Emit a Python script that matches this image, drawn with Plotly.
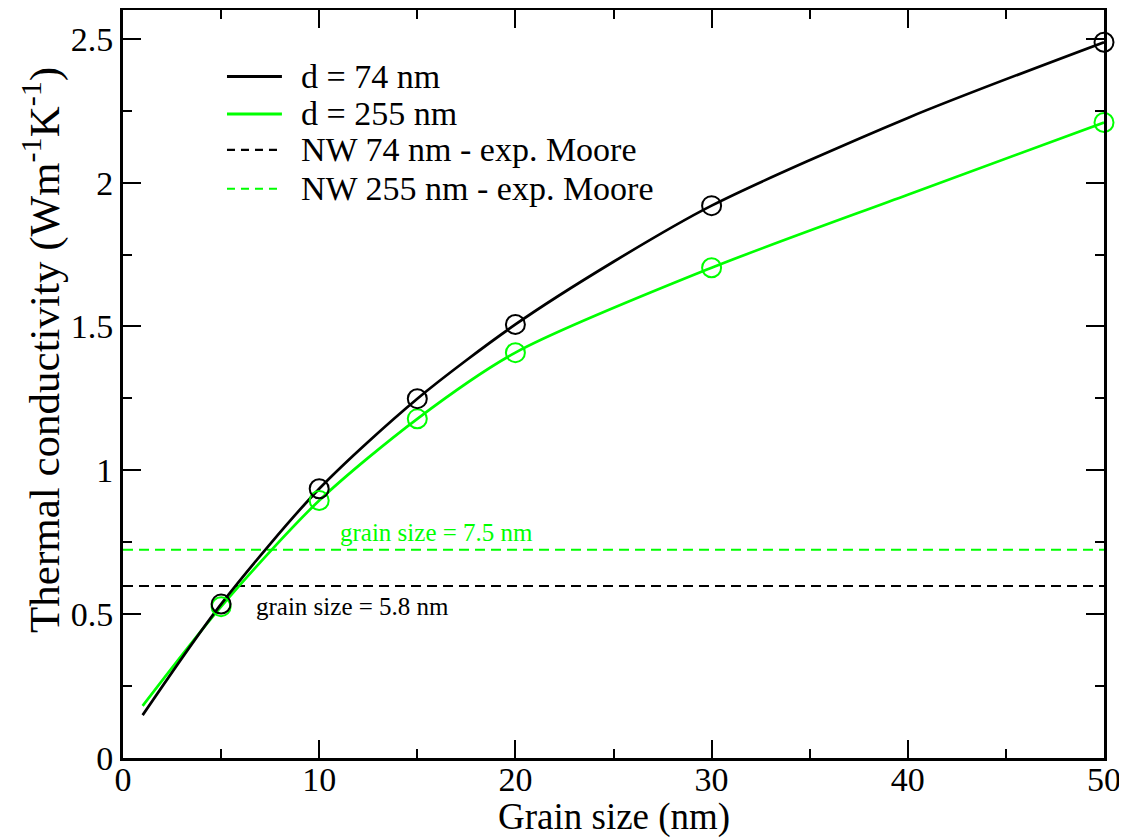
import plotly.graph_objects as go

# ---- data ----
grain_pts = [5, 10, 15, 20, 30, 50]
k_74_pts = [0.535, 0.936, 1.249, 1.507, 1.92, 2.488]
k_255_pts = [0.526, 0.895, 1.179, 1.409, 1.704, 2.209]

curve74_x = [1, 5, 10, 15, 20, 25, 30, 40, 50]
curve74_y = [0.149, 0.535, 0.936, 1.249, 1.507, 1.725, 1.92, 2.225, 2.488]
curve255_x = [1, 5, 10, 15, 20, 30, 40, 50]
curve255_y = [0.181, 0.526, 0.895, 1.179, 1.409, 1.704, 1.958, 2.209]

exp_x = [0, 50]
exp_74 = 0.598
exp_255 = 0.724

legend_labels = ["d = 74 nm", "d = 255 nm", "NW 74 nm - exp. Moore", "NW 255 nm - exp. Moore"]

BLACK = "#000000"
GREEN = "#00ff00"
FONT = "Liberation Serif, Times New Roman, serif"

fig = go.Figure()

# experimental horizontal lines
fig.add_trace(go.Scatter(x=exp_x, y=[exp_255] * 2, mode="lines", name=legend_labels[3],
                         line=dict(color=GREEN, width=2, dash="10px,6px"), showlegend=False))
fig.add_trace(go.Scatter(x=exp_x, y=[exp_74] * 2, mode="lines", name=legend_labels[2],
                         line=dict(color=BLACK, width=2, dash="10px,6px"), showlegend=False))

# curves
fig.add_trace(go.Scatter(x=curve255_x, y=curve255_y, mode="lines", name=legend_labels[1],
                         line=dict(color=GREEN, width=2.7, shape="spline", smoothing=0.8),
                         showlegend=False))
fig.add_trace(go.Scatter(x=curve74_x, y=curve74_y, mode="lines", name=legend_labels[0],
                         line=dict(color=BLACK, width=2.7, shape="spline", smoothing=0.8),
                         showlegend=False))

# markers
fig.add_trace(go.Scatter(x=grain_pts, y=k_255_pts, mode="markers", showlegend=False, cliponaxis=False,
                         marker=dict(symbol="circle-open", size=19, color=GREEN, line=dict(width=2, color=GREEN))))
fig.add_trace(go.Scatter(x=grain_pts, y=k_74_pts, mode="markers", showlegend=False, cliponaxis=False,
                         marker=dict(symbol="circle-open", size=19, color=BLACK, line=dict(width=2, color=BLACK))))

# manual legend
leg_rows = [0.911, 0.861, 0.813, 0.761]
leg_colors = [BLACK, GREEN, BLACK, GREEN]
leg_dash = ["solid", "solid", "8px,6px", "8px,6px"]
leg_width = [3, 3, 2.2, 2.2]
for lab, yy, c, d, w in zip(legend_labels, leg_rows, leg_colors, leg_dash, leg_width):
    fig.add_shape(type="line", xref="paper", yref="paper", x0=0.106, x1=0.162, y0=yy, y1=yy,
                  line=dict(color=c, width=w, dash=d))
    fig.add_annotation(xref="paper", yref="paper", x=0.179, y=yy, text=lab, showarrow=False,
                       xanchor="left", yanchor="middle", font=dict(family=FONT, size=34, color=BLACK))

# text annotations
fig.add_annotation(x=10.95, y=0.783, text="grain size = 7.5 nm", showarrow=False, xanchor="left",
                   yanchor="middle", font=dict(family=FONT, size=25, color=GREEN))
fig.add_annotation(x=6.7, y=0.525, text="grain size = 5.8 nm", showarrow=False, xanchor="left",
                   yanchor="middle", font=dict(family=FONT, size=25, color=BLACK))

# axis titles as annotations
fig.add_annotation(xref="paper", yref="paper", x=-0.083, y=0.545, textangle=-90,
                   text="Thermal conductivity (Wm<sup>-1</sup>K<sup>-1</sup>)", showarrow=False,
                   xanchor="center", yanchor="middle", font=dict(family=FONT, size=43, color=BLACK))
fig.add_annotation(xref="paper", yref="paper", x=0.5, y=-0.079,
                   text="Grain size (nm)", showarrow=False,
                   xanchor="center", yanchor="middle", font=dict(family=FONT, size=37, color=BLACK))

axis_common = dict(showgrid=False, zeroline=False, showline=True, linecolor=BLACK, linewidth=2.7,
                   mirror="ticks", ticks="inside", ticklen=18, tickwidth=2.2, tickcolor=BLACK,
                   automargin=False, tickfont=dict(family=FONT, size=34, color=BLACK))

fig.update_xaxes(range=[0, 50], dtick=10, tick0=0, ticklabelstandoff=-11,
                 minor=dict(dtick=5, ticks="inside", ticklen=9, tickwidth=2.2, tickcolor=BLACK),
                 **axis_common)
fig.update_yaxes(range=[0, 2.6], dtick=0.5, tick0=0,
                 minor=dict(dtick=0.25, ticks="inside", ticklen=9, tickwidth=2.2, tickcolor=BLACK),
                 **axis_common)

# page body adds an 8px offset (left/top); size the figure so the plot area lands where the reference has it
fig.update_layout(width=1119, height=831, margin=dict(l=115, r=23, t=2, b=81),
                  plot_bgcolor="white", paper_bgcolor="white", showlegend=False,
                  font=dict(family=FONT, color=BLACK))

fig.write_html("out.html")
